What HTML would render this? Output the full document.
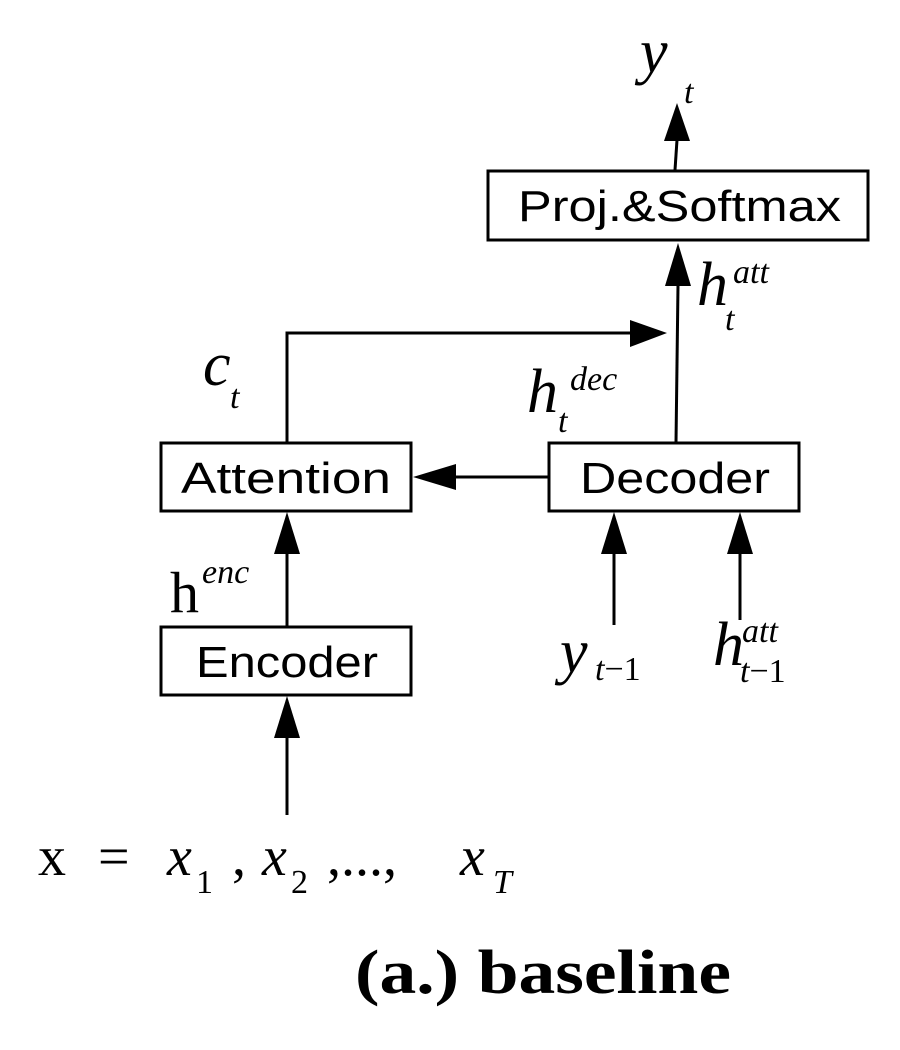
<!DOCTYPE html>
<html><head><meta charset="utf-8"><style>
body{margin:0;background:#fff}
svg{display:block}
.b{font-family:"Liberation Sans",sans-serif;font-size:44px}
.m{font-family:"Liberation Serif",serif;font-style:italic}
</style></head><body>
<svg width="900" height="1050" viewBox="0 0 900 1050" xmlns="http://www.w3.org/2000/svg">
<g fill="none" stroke="#000" stroke-width="3">
<rect x="488" y="171" width="380" height="69"/>
<rect x="161" y="443" width="250" height="68"/>
<rect x="549" y="443" width="250" height="68"/>
<rect x="161" y="627" width="250" height="68"/>
<line x1="675" y1="170" x2="677" y2="140"/>
<line x1="676" y1="443" x2="678" y2="285"/>
<polyline points="287,443 287,333 632,333"/>
<line x1="455" y1="477" x2="549" y2="477"/>
<line x1="287" y1="627" x2="287" y2="552"/>
<line x1="287" y1="815" x2="287" y2="738"/>
<line x1="614" y1="625" x2="614" y2="552"/>
<line x1="740" y1="620" x2="740" y2="552"/>
</g>
<g fill="#000">
<polygon points="677,103 664,141 690,141"/>
<polygon points="678,243 665,286 691,286"/>
<polygon points="667,333 630,320 630,347"/>
<polygon points="413,477 456,464 456,490"/>
<polygon points="287,512 274,554 300,554"/>
<polygon points="287,696 274,738 300,738"/>
<polygon points="614,512 601,554 627,554"/>
<polygon points="740,512 727,554 753,554"/>
</g>
<text class="b" x="518" y="221" textLength="323" lengthAdjust="spacingAndGlyphs">Proj.&amp;Softmax</text>
<text class="b" x="181" y="493" textLength="210" lengthAdjust="spacingAndGlyphs">Attention</text>
<text class="b" x="580" y="493" textLength="190" lengthAdjust="spacingAndGlyphs">Decoder</text>
<text class="b" x="196" y="677" textLength="182" lengthAdjust="spacingAndGlyphs">Encoder</text>
<g class="m">
<text x="640" y="72" font-size="62">y</text><text x="684" y="103" font-size="34">t</text>
<text x="697" y="305" font-size="62">h</text><text x="733" y="283" font-size="34">att</text><text x="725" y="330" font-size="34">t</text>
<text x="203" y="385" font-size="62">c</text><text x="230" y="408" font-size="34">t</text>
<text x="527" y="412" font-size="62">h</text><text x="570" y="390" font-size="34">dec</text><text x="558" y="432" font-size="34">t</text>
<text x="560" y="672" font-size="62">y</text><text x="595" y="680" font-size="34" style="font-style:normal"><tspan font-style="italic">t</tspan>−1</text>
<text x="713" y="665" font-size="62">h</text><text x="742" y="642" font-size="34">att</text><text x="740" y="682" font-size="34" style="font-style:normal"><tspan font-style="italic">t</tspan>−1</text>
</g>
<text x="170" y="612" font-family="Liberation Serif,serif" font-size="58">h</text><text x="202" y="583" class="m" font-size="34">enc</text>
<g font-family="Liberation Serif,serif" font-size="56">
<text x="38" y="875">x</text>
<text x="98" y="875">=</text>
<text x="167" y="875" font-style="italic">x</text><text x="196" y="893" font-size="34">1</text>
<text x="232" y="875">,</text>
<text x="262" y="875" font-style="italic">x</text><text x="291" y="893" font-size="34">2</text>
<text x="327" y="875">,...,</text>
<text x="460" y="875" font-style="italic">x</text><text x="493" y="893" font-size="34" font-style="italic">T</text>
</g>
<text x="355" y="993" font-family="Liberation Serif,serif" font-weight="bold" font-size="62" textLength="376" lengthAdjust="spacingAndGlyphs">(a.) baseline</text>
</svg>
</body></html>
